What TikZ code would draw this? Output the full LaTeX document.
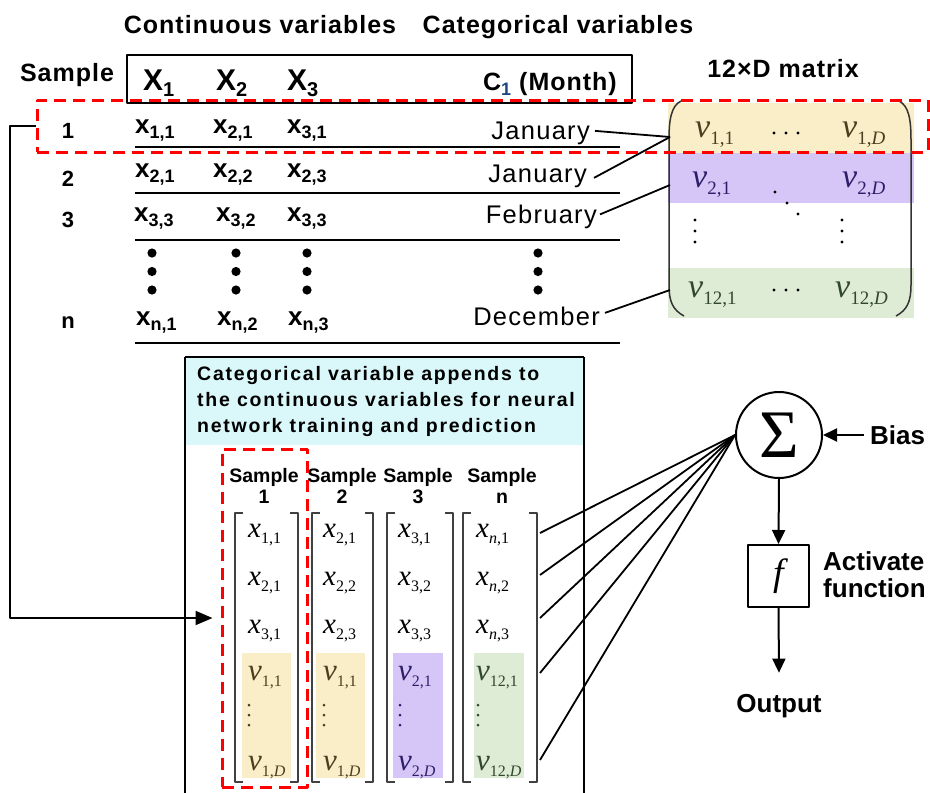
\documentclass[tikz,border=0pt]{standalone}
\usepackage{fontspec}
\setmainfont{Liberation Sans}
\newfontfamily\tms{Liberation Serif}
\usetikzlibrary{arrows.meta}
\definecolor{redd}{RGB}{255,0,0}
\definecolor{ybg}{RGB}{250,238,200}
\definecolor{pbg}{RGB}{214,198,248}
\definecolor{gbg}{RGB}{222,236,214}
\definecolor{cyanbg}{RGB}{218,247,250}
\definecolor{ytx}{RGB}{75,62,30}
\definecolor{ptx}{RGB}{45,30,105}
\definecolor{gtx}{RGB}{50,72,45}
\definecolor{subblue}{RGB}{30,70,130}
\newcommand\fs[1]{\fontsize{#1}{#1}\selectfont}
\newcommand\tx[1]{x\raisebox{-5pt}{\fs{18}#1}}
\newcommand\TX[1]{X\raisebox{-6pt}{\fs{20}#1}}
\newcommand\sx[1]{{\tms\fs{29}\textit{x}\raisebox{-6pt}{\fs{16}#1}}}
\newcommand\mv[1]{{\tms\fs{34}\textit{v}\raisebox{-7pt}{\fs{19}#1}}}
\newcommand\bv[1]{{\tms\fs{31}\textit{v}\raisebox{-6pt}{\fs{16}#1}}}
\tikzset{
  hd/.style={inner sep=0pt, font=\bfseries\fs{25}\addfontfeatures{LetterSpace=4}},
  tbl/.style={inner sep=0pt, anchor=base west, font=\bfseries\fs{26}},
  num/.style={inner sep=0pt, anchor=base, font=\bfseries\fs{22}},
  mon/.style={inner sep=0pt, anchor=base east, font=\fs{25.5}\addfontfeatures{LetterSpace=5}},
  capt/.style={inner sep=0pt, anchor=base west, font=\bfseries\fs{19.5}\addfontfeatures{LetterSpace=9}},
  smp/.style={inner sep=0pt, anchor=base, font=\bfseries\fs{19.5}},
  nn/.style={inner sep=0pt, font=\bfseries\fs{26}},
  ent/.style={inner sep=0pt, anchor=base west},
  seldash/.style={draw=redd, line width=3pt, dash pattern=on 12pt off 7pt, inner sep=0pt},
  rowline/.style={line width=1.8pt},
  brk/.style={line width=1.4pt, draw=black!75},
  paren/.style={line width=1.5pt, draw=black!80},
  conn/.style={line width=1.8pt},
  arr/.style={line width=2pt, -{Triangle[length=14pt,width=13pt]}},
}
\begin{document}
\begin{tikzpicture}[x=1pt,y=-1pt,line join=round]
\useasboundingbox (0,0) rectangle (930,793);
\clip (0,0) rectangle (930,793);
\fill[white] (0,0) rectangle (930,793);

% ---------- headers
\node[hd, anchor=base] (hcont) at (260,33) {Continuous variables};
\node[hd, anchor=base] (hcat) at (558,33) {Categorical variables};
\node[hd, anchor=base] (hsamp) at (67,81) {Sample};
\node[hd, anchor=base] (hmat) at (783,77) {12×D matrix};

\node[draw, line width=2.5pt, minimum width=505pt, minimum height=48pt, inner sep=0pt] (hbox) at (379.5,79) {};
\node[inner sep=0pt, anchor=base west, font=\bfseries\fs{30}] (X1) at (143,90) {\TX{1}};
\node[inner sep=0pt, anchor=base west, font=\bfseries\fs{30}] (X2) at (216,90) {\TX{2}};
\node[inner sep=0pt, anchor=base west, font=\bfseries\fs{30}] (X3) at (287,90) {\TX{3}};
\node[hd, anchor=base east] (C1) at (617,90) {C\raisebox{-5pt}{\fs{18}\textcolor{subblue}{1}} (Month)};

% ---------- matrix bands
\fill[ybg] (668,103) rectangle (914,153);
\fill[pbg] (668,153) rectangle (914,203);
\fill[gbg] (668,268) rectangle (914,318);
\draw[paren] (681,101) .. controls (671,106) and (669,120) .. (669,140) -- (669,285) .. controls (669,302) and (673,310) .. (684,316);
\draw[paren] (899,101) .. controls (909,106) and (911,120) .. (911,140) -- (911,285) .. controls (911,302) and (907,310) .. (896,316);

\node[ent] (m11) at (695,137) {\textcolor{ytx}{\mv{1,1}}};
\node[ent] (m1D) at (842,137) {\textcolor{ytx}{\mv{1,\textit{D}}}};
\node[ent] (m21) at (692,187) {\textcolor{ptx}{\mv{2,1}}};
\node[ent] (m2D) at (842,187) {\textcolor{ptx}{\mv{2,\textit{D}}}};
\node[ent] (m121) at (688,297) {\textcolor{gtx}{\mv{12,1}}};
\node[ent] (m12D) at (835,297) {\textcolor{gtx}{\mv{12,\textit{D}}}};
\foreach \xx in {774,786,798} {
  \fill (\xx,133) circle (1.6pt);
  \fill (\xx,290) circle (1.6pt);
}
\fill (775,192) circle (1.6pt); \fill (787,203) circle (1.6pt); \fill (798,214) circle (1.6pt);
\foreach \yy in {220,231,242} {
  \fill (695,\yy) circle (1.6pt);
  \fill (842,\yy) circle (1.6pt);
}
\coordinate (mj) at (670,137);
\coordinate (mf) at (670,185);
\coordinate (md) at (670,290);

% ---------- table rows
\node[num] (n1) at (68,138) {1};
\node[num] (n2) at (68,186) {2};
\node[num] (n3) at (68,227) {3};
\node[num] (nn) at (68,328) {n};

\node[tbl] (r1a) at (135,133) {\tx{1,1}};
\node[tbl] (r1b) at (213,133) {\tx{2,1}};
\node[tbl] (r1c) at (287,133) {\tx{3,1}};
\node[tbl] (r2a) at (135,177) {\tx{2,1}};
\node[tbl] (r2b) at (213,177) {\tx{2,2}};
\node[tbl] (r2c) at (287,177) {\tx{2,3}};
\node[tbl] (r3a) at (134,221) {\tx{3,3}};
\node[tbl] (r3b) at (216,221) {\tx{3,2}};
\node[tbl] (r3c) at (287,221) {\tx{3,3}};
\node[tbl] (rna) at (136,325) {\tx{n,1}};
\node[tbl] (rnb) at (217,325) {\tx{n,2}};
\node[tbl] (rnc) at (288,325) {\tx{n,3}};

\node[mon] (jan1) at (590,139) {January};
\node[mon] (jan2) at (587,182) {January};
\node[mon] (feb) at (597,223) {February};
\node[mon] (dec) at (600,325) {December};

\foreach \yy in {147,193,240,343} \draw[rowline] (135,\yy) -- (620,\yy);
\foreach \xx in {152,236,307,538} \foreach \yy in {253,271.5,290} \fill (\xx,\yy) circle (4.6pt);

\draw[conn] ([xshift=5pt,yshift=2pt]jan1.east) -- (mj);
\draw[conn] ([xshift=7pt,yshift=-2pt]jan2.east) -- (mj);
\draw[conn] ([xshift=3pt,yshift=2pt]feb.east) -- (mf);
\draw[conn] ([xshift=5pt,yshift=3pt]dec.east) -- (md);

% ---------- selection of sample 1
\node[seldash, minimum width=891pt, minimum height=52pt] (sel1) at (482.5,126) {};

% ---------- bottom box
\fill[cyanbg] (186,358) rectangle (583,445);
\draw[line width=2.5pt] (185,357) -- (584,357);
\draw[line width=2.5pt] (185,357) -- (185,800);
\draw[line width=2.5pt] (584,357) -- (584,800);
\node[capt] (cap1) at (197,380) {Categorical variable appends to};
\node[capt] (cap2) at (197,406) {the continuous variables for neural};
\node[capt] (cap3) at (197,432) {network training and prediction};

\node[smp] (s1a) at (264,482) {Sample}; \node[smp] (s1b) at (264,503) {1};
\node[smp] (s2a) at (342,482) {Sample}; \node[smp] (s2b) at (342,503) {2};
\node[smp] (s3a) at (418,482) {Sample}; \node[smp] (s3b) at (418,503) {3};
\node[smp] (s4a) at (502,482) {Sample}; \node[smp] (s4b) at (502,503) {n};

\fill[ybg] (242,653) rectangle (291,778);
\fill[ybg] (316,653) rectangle (365,778);
\fill[pbg] (393,653) rectangle (443,778);
\fill[gbg] (474,653) rectangle (524,778);

\foreach \xl/\xr in {235/298, 312/373, 387/453, 463/537} {
  \draw[brk] (\xl+8,513) -- (\xl,513) -- (\xl,782) -- (\xl+8,782);
  \draw[brk] (\xr-8,513) -- (\xr,513) -- (\xr,782) -- (\xr-8,782);
}

\node[ent] (a1) at (248,537) {\sx{1,1}};
\node[ent] (a2) at (248,585) {\sx{2,1}};
\node[ent] (a3) at (248,633) {\sx{3,1}};
\node[ent] (a4) at (248,680) {\textcolor{ytx}{\bv{1,1}}};
\node[ent] (a5) at (248,770) {\textcolor{ytx}{\bv{1,\textit{D}}}};
\node[ent] (b1) at (323,537) {\sx{2,1}};
\node[ent] (b2) at (323,585) {\sx{2,2}};
\node[ent] (b3) at (323,633) {\sx{2,3}};
\node[ent] (b4) at (323,680) {\textcolor{ytx}{\bv{1,1}}};
\node[ent] (b5) at (323,770) {\textcolor{ytx}{\bv{1,\textit{D}}}};
\node[ent] (c1) at (398,537) {\sx{3,1}};
\node[ent] (c2) at (398,585) {\sx{3,2}};
\node[ent] (c3) at (398,633) {\sx{3,3}};
\node[ent] (c4) at (398,680) {\textcolor{ptx}{\bv{2,1}}};
\node[ent] (c5) at (398,770) {\textcolor{ptx}{\bv{2,\textit{D}}}};
\node[ent] (d1) at (476,537) {\sx{\textit{n},1}};
\node[ent] (d2) at (476,585) {\sx{\textit{n},2}};
\node[ent] (d3) at (476,633) {\sx{\textit{n},3}};
\node[ent] (d4) at (476,680) {\textcolor{gtx}{\bv{12,1}}};
\node[ent] (d5) at (476,770) {\textcolor{gtx}{\bv{12,\textit{D}}}};
\foreach \xx/\cc in {249/ytx, 324/ytx, 400/ptx, 478/gtx} \foreach \yy in {705,715,725} \fill[\cc] (\xx,\yy) circle (1.5pt);

\node[seldash, minimum width=85pt, minimum height=338pt] (sel2) at (264.5,618) {};

% ---------- link from selected row to sample 1
\coordinate (turn) at (10,126);
\draw[line width=2pt, -{Triangle[length=17pt,width=14pt]}] (sel1.west) -- (turn) |- ([xshift=-8pt]sel2.west);

% ---------- neuron
\node[circle, draw, line width=2pt, minimum size=86pt, inner sep=0pt] (sum) at (779,435) {\tms\fs{68}Σ};
\node[nn, anchor=base west] (bias) at (870,444) {Bias};
\node[draw, line width=2pt, minimum width=61pt, minimum height=62pt, inner sep=0pt] (fbox) at (778.5,576) {\tms\fs{38}\itshape f};
\node[nn, anchor=base west] (act1) at (823,570) {Activate};
\node[nn, anchor=base west] (act2) at (823,597) {function};
\node[nn, anchor=base] (outp) at (779,712) {Output};

\foreach \yy in {533,575,618,673,760} {
  \coordinate (in\yy) at (540,\yy);
  \draw[conn] (in\yy) -- (sum.west);
}
\draw[arr] ([xshift=-6pt]bias.west |- sum.east) -- (sum.east);
\draw[arr] (sum.south) -- (fbox.north);
\draw[arr] (fbox.south) -- ([yshift=21pt]outp.north);
\end{tikzpicture}
\end{document}
